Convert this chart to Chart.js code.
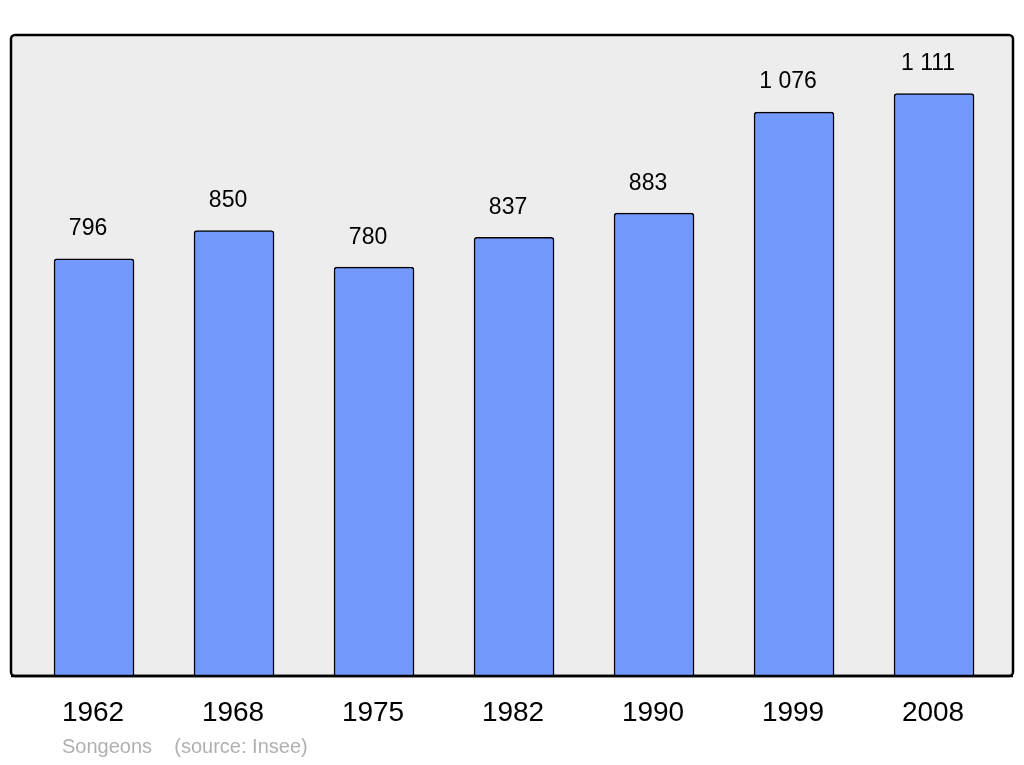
<!DOCTYPE html>
<html><head><meta charset="utf-8">
<script src="https://cdn.jsdelivr.net/npm/chart.js@4"></script>
<style>html,body{margin:0;padding:0;background:#fff}#w{width:1024px;height:765px}</style>
</head><body><div id="w"><canvas id="c"></canvas></div>
<script>
const years = ["1962","1968","1975","1982","1990","1999","2008"];
const population = [796, 850, 780, 837, 883, 1076, 1111];
const valueLabels = ["796","850","780","837","883","1 076","1 111"];
const sourceText = "Songeons    (source: Insee)";

const deco = {
  id:'deco',
  beforeDraw(ch){
    const {ctx, chartArea:a} = ch;
    ctx.save();
    ctx.fillStyle='#ededed';
    ctx.strokeStyle='#000'; ctx.lineWidth=2.5;
    ctx.beginPath(); ctx.roundRect(a.left,a.top,a.right-a.left,a.bottom-a.top,4);
    ctx.fill(); ctx.stroke(); ctx.restore();
  },
  afterDatasetsDraw(ch){
    const {ctx, chartArea:a} = ch;
    const xs=ch.scales.x, ys=ch.scales.y;
    ctx.save();
    ctx.strokeStyle='#000'; ctx.lineWidth=2.5;
    ctx.beginPath(); ctx.moveTo(a.left,a.bottom); ctx.lineTo(a.right,a.bottom); ctx.stroke();
    ctx.fillStyle='#000'; ctx.textAlign='center'; ctx.textBaseline='middle';
    ctx.font='23px "Liberation Sans", Arial, sans-serif';
    population.forEach((v,i)=>{
      ctx.fillText(valueLabels[i], xs.getPixelForValue(i)-6, ys.getPixelForValue(v)-30);
    });
    ctx.font='28px "Liberation Sans", Arial, sans-serif';
    years.forEach((y,i)=>ctx.fillText(y, xs.getPixelForValue(i)-1, 713));
    ctx.fillStyle='#b0b0b0'; ctx.textAlign='left';
    ctx.font='20px "Liberation Sans", Arial, sans-serif';
    ctx.fillText(sourceText, 62, 747);
    ctx.restore();
  }
};

new Chart(document.getElementById('c'),{
  type:'bar',
  data:{datasets:[{data:population.map((v,i)=>({x:i,y:v})),
    backgroundColor:'#7399ff',borderColor:'#000',borderWidth:1.5,
    borderRadius:3,borderSkipped:'bottom',barThickness:80}]},
  options:{
    responsive:true,maintainAspectRatio:false,animation:false,
    layout:{padding:{left:11,top:35,right:11,bottom:89}},
    plugins:{legend:{display:false},tooltip:{enabled:false}},
    scales:{
      x:{type:'linear',display:false,offset:false,grid:{offset:false},min:-0.593,max:6.564},
      y:{display:false,min:0,max:1223}
    }
  },
  plugins:[deco]
});
</script></body></html>
